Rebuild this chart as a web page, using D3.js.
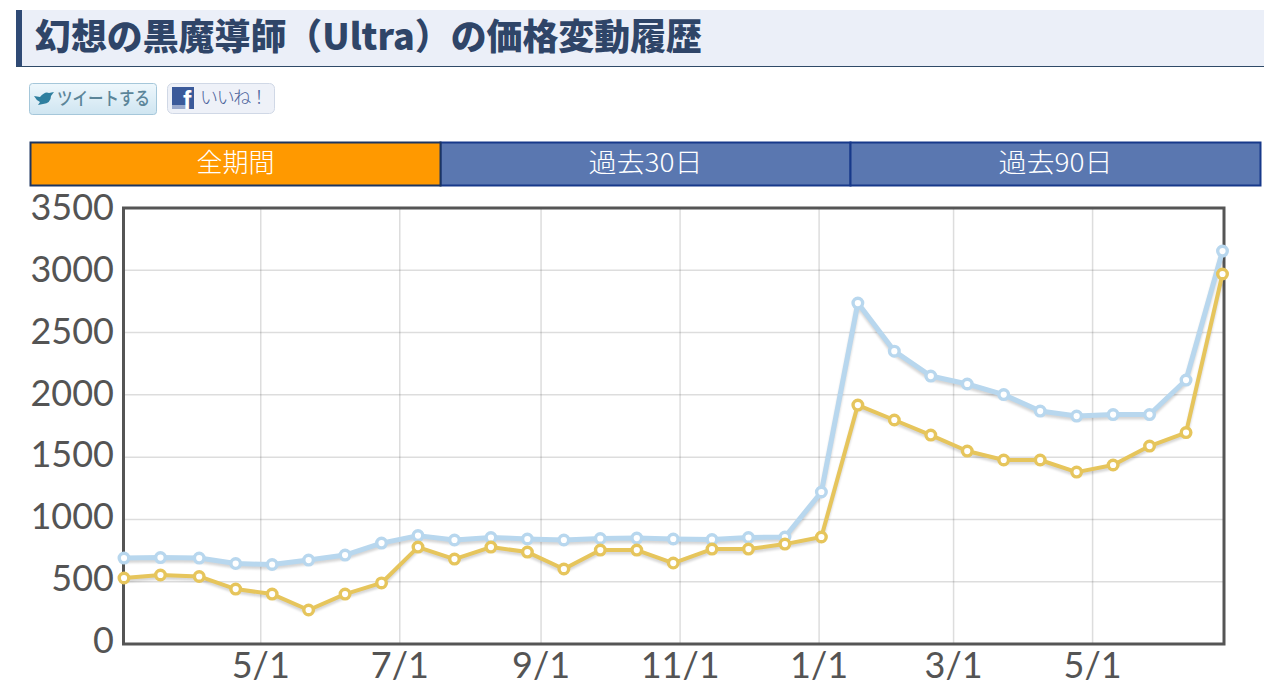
<!DOCTYPE html>
<html lang="ja"><head><meta charset="utf-8">
<script src="https://cdnjs.cloudflare.com/ajax/libs/d3/7.8.5/d3.min.js"></script>
<style>html,body{margin:0;padding:0;background:#fff;overflow:hidden}svg{display:block}</style>
</head><body><svg id="c" width="1275" height="687"></svg>
<script>
const titleText = "幻想の黒魔導師（Ultra）の価格変動履歴";
const tabLabels = ["全期間", "過去30日", "過去90日"];
const dates = ["2013-03-02","2013-03-18","2013-04-04","2013-04-20","2013-05-06","2013-05-22","2013-06-07","2013-06-23","2013-07-09","2013-07-25","2013-08-10","2013-08-26","2013-09-11","2013-09-27","2013-10-13","2013-10-29","2013-11-15","2013-12-01","2013-12-17","2014-01-02","2014-01-18","2014-02-03","2014-02-19","2014-03-07","2014-03-23","2014-04-08","2014-04-24","2014-05-10","2014-05-26","2014-06-11","2014-06-27"];
const upperPrices = [690,694,690,646,638,674,714,810,870,835,855,843,835,847,850,843,839,855,859,1220,2737,2351,2151,2087,2002,1870,1830,1842,1842,2119,3154];
const lowerPrices = [530,554,542,441,401,273,401,490,778,682,778,738,602,754,754,650,762,762,802,859,1918,1798,1677,1549,1477,1477,1380,1437,1589,1697,2970];
const xTickDates = ["2013-05-01","2013-07-01","2013-09-01","2013-11-01","2014-01-01","2014-03-01","2014-05-01"];
const yTicks = [0,500,1000,1500,2000,2500,3000,3500];

const parse = d3.utcParse("%Y-%m-%d");
const svg = d3.select("#c");
const font = "'Noto Sans CJK JP','Noto Sans',sans-serif";
const latin = "Lato,'Noto Sans',sans-serif";

// header
svg.append("rect").attr("x",16).attr("y",10).attr("width",1248).attr("height",56).attr("fill","#ebeff8");
svg.append("rect").attr("x",16).attr("y",10).attr("width",6).attr("height",56).attr("fill","#2f4a75");
svg.append("rect").attr("x",16).attr("y",66).attr("width",1248).attr("height",1).attr("fill","#2f4a68");
svg.append("text").attr("x",35).attr("y",50).attr("font-family",font).attr("font-weight",900)
  .attr("font-size",36).attr("textLength",667).attr("lengthAdjust","spacingAndGlyphs").attr("fill","#2f4568").text(titleText);

// share buttons
const defs = svg.append("defs");
const g1 = defs.append("linearGradient").attr("id","tw").attr("x1",0).attr("x2",0).attr("y1",0).attr("y2",1);
g1.append("stop").attr("offset",0).attr("stop-color","#eef7fc");
g1.append("stop").attr("offset",1).attr("stop-color","#cfe5f1");
defs.append("filter").attr("id","soft").attr("x","-5%").attr("y","-5%").attr("width","110%").attr("height","110%")
  .append("feGaussianBlur").attr("stdDeviation",0.45);
defs.append("filter").attr("id","shadow").attr("x","-5%").attr("y","-5%").attr("width","110%").attr("height","110%")
  .append("feGaussianBlur").attr("stdDeviation",1.1);
svg.append("rect").attr("x",29.5).attr("y",83.5).attr("width",127).attr("height",31).attr("rx",3)
  .attr("fill","url(#tw)").attr("stroke","#a5c7da");
svg.append("path").attr("d","M34 96 l6 1 q5 -6 9 -4 l5 -1 l-3 4 q0 7 -8 8 l-5 1 l2 -3 q-4 -2 -6 -6z").attr("fill","#2f7f9f");
svg.append("text").attr("x",57).attr("y",105).attr("font-family",font).attr("font-size",18.5).attr("font-weight",500)
  .attr("textLength",93).attr("lengthAdjust","spacingAndGlyphs").attr("fill","#5b8599").text("ツイートする");
svg.append("rect").attr("x",167.5).attr("y",83.5).attr("width",107).attr("height",30).attr("rx",5)
  .attr("fill","#eef1f8").attr("stroke","#d0d8e6");
svg.append("rect").attr("x",172).attr("y",87).attr("width",22).attr("height",22).attr("fill","#3b5a9a");
svg.append("rect").attr("x",172).attr("y",105).attr("width",14).attr("height",4).attr("fill","#9aa9cc");
svg.append("text").attr("x",183).attr("y",109).attr("font-family","'Liberation Sans',sans-serif").attr("font-weight",700)
  .attr("font-size",25).attr("fill","#fff").text("f");
svg.append("text").attr("x",200).attr("y",104).attr("font-family",font).attr("font-size",18).attr("font-weight",300)
  .attr("textLength",68).attr("fill","#4a619a").text("いいね！");

// tabs
const tabX = d3.scaleBand().domain(tabLabels).range([30.5,1260.5]);
const tabs = svg.selectAll("g.tab").data(tabLabels).join("g").attr("class","tab");
tabs.append("rect").attr("x",d=>tabX(d)).attr("y",142.5).attr("width",tabX.bandwidth()).attr("height",43)
  .attr("fill",(d,i)=>i===0?"#ff9900":"#5a77b0").attr("stroke",(d,i)=>i===0?"#1c3560":"#17398a").attr("stroke-width",2);
tabs.filter((d,i)=>i===0).raise();
tabs.append("text").attr("x",d=>tabX(d)+tabX.bandwidth()/2).attr("y",172).attr("text-anchor","middle")
  .attr("font-family",font).attr("font-weight",300).attr("font-size",26).attr("fill","#fff")
  .attr("textLength",(d,i)=>i===0?78:114).attr("lengthAdjust","spacingAndGlyphs").text(d=>d);

// chart
const x = d3.scaleUtc().domain([parse("2013-03-02"),parse("2014-06-27")]).range([124,1222.5]);
const y = d3.scaleLinear().domain([0,3500]).range([644,208]);
const yLabel = d3.scaleLinear().domain([0,3500]).range([639,206]);
const grid = "rgba(84,84,84,0.2)";

svg.append("g").attr("transform","translate(-0.5,644)")
  .call(d3.axisBottom(x).tickValues(xTickDates.map(parse)).tickFormat(d3.utcFormat("%-m/%-d")).tickSize(-436).tickPadding(0))
  .call(g=>g.select(".domain").remove())
  .call(g=>g.selectAll("line").attr("stroke",grid).attr("stroke-width",1.5))
  .call(g=>g.selectAll("text").attr("dy",0).attr("y",34).attr("font-family",latin).attr("font-size",36).attr("fill","#545454"));
svg.append("g").attr("transform","translate(123,-0.5)")
  .call(d3.axisLeft(y).tickValues(yTicks).tickFormat(d3.format("d")).tickSize(-1100).tickPadding(0))
  .call(g=>g.select(".domain").remove())
  .call(g=>g.selectAll("line").attr("stroke",grid).attr("stroke-width",1.5))
  .call(g=>g.selectAll("text").attr("x",-9).attr("dy",0).attr("dominant-baseline","central")
     .attr("transform",d=>`translate(0,${yLabel(d)-y(d)})`)
     .attr("font-family",latin).attr("font-size",36).attr("fill","#545454"));

svg.append("rect").attr("x",123.5).attr("y",208).attr("width",1100.5).attr("height",436)
  .attr("fill","none").attr("stroke","#555").attr("stroke-width",3);

const line = d3.line().x((d,i)=>x(parse(dates[i]))).y(d=>y(d));
const series = [{v:upperPrices,c:"#b8d7ee",w:5,sh:"rgba(0,0,0,0.16)"},{v:lowerPrices,c:"#e6c55c",w:4,sh:"rgba(0,0,0,0.16)"}];
series.forEach(s=>{
  svg.append("path").attr("d",line(s.v)).attr("transform","translate(0,2.5)").attr("fill","none")
    .attr("stroke",s.sh).attr("stroke-width",s.w).attr("filter","url(#shadow)");
  const g = svg.append("g").attr("filter","url(#soft)");
  g.append("path").attr("d",line(s.v)).attr("fill","none").attr("stroke",s.c).attr("stroke-width",s.w).attr("stroke-linejoin","round");
  g.selectAll("circle").data(s.v).join("circle")
    .attr("cx",(d,i)=>x(parse(dates[i]))).attr("cy",d=>y(d)).attr("r",4.8)
    .attr("fill","#fff").attr("stroke",s.c).attr("stroke-width",3.4);
});
</script></body></html>
